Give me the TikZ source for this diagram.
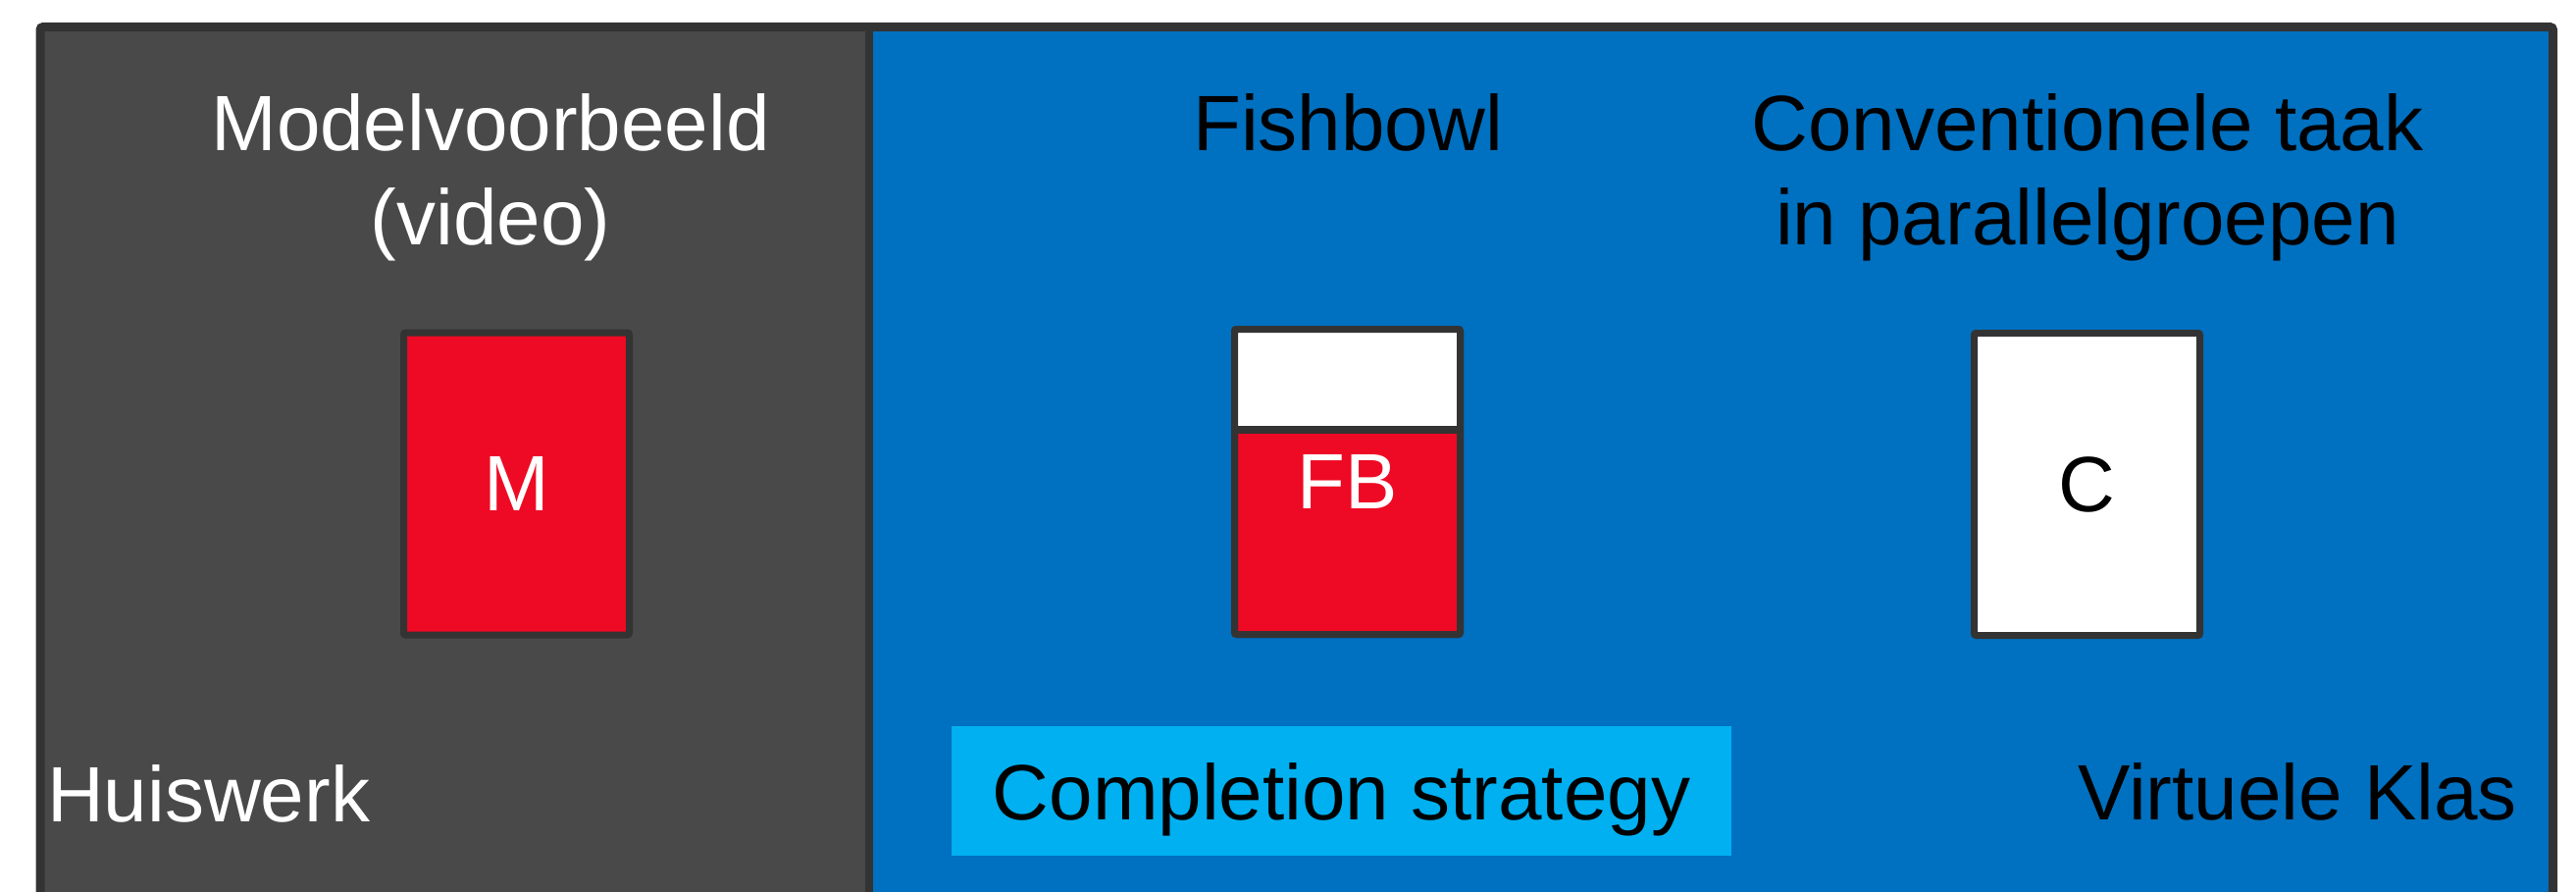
\documentclass[tikz,border=0pt]{standalone}
\usepackage{fontspec}
\setmainfont{Liberation Sans}
\usetikzlibrary{calc}
\definecolor{panelgray}{HTML}{494949}
\definecolor{edge}{HTML}{333333}
\definecolor{vblue}{HTML}{0070C0}
\definecolor{cblue}{HTML}{00B0F0}
\definecolor{mred}{HTML}{EE0A24}
\begin{document}
\begin{tikzpicture}[x=1pt,y=-1pt,
  lbl/.style={font=\fontsize{80}{96}\selectfont, inner sep=0pt},
  card/.style={draw=edge, line width=7pt, rounded corners=2pt, outer sep=0pt,
    minimum width=230pt, minimum height=308pt, inner sep=0pt,
    font=\fontsize{80}{96}\selectfont}]
\useasboundingbox (0,0) rectangle (2626,909);
\clip (0,0) rectangle (2626,909);
% panels
\fill[panelgray] (41,27) rectangle (886,960);
\fill[vblue] (886,27) rectangle (2602,960);
\draw[edge, line width=8pt] (886,27) -- (886,960);
\draw[edge, line width=9pt, rounded corners=3pt] (41,960) -- (41,27.5) -- (2602.5,27.5) -- (2602.5,960);
% cards
\node[card, fill=mred, text=white] (m) at (526.5,493) {M};
\node[card, fill=mred, text=white, minimum height=311pt] (fb) at (1373.5,491) {FB};
\fill[white] ($(fb.north west)+(3.5,3.5)$) rectangle ($(fb.north east)+(-3.5,98.5)$);
\draw[edge, line width=8pt] ($(fb.north west)+(0,102)$) -- ($(fb.north east)+(0,102)$);
\draw[edge, line width=7pt, rounded corners=2pt] (fb.north west) rectangle (fb.south east);
\node[card, fill=white, text=black] (c) at (2127.5,493.5) {C};
% titles
\node[lbl, text=white, align=center, anchor=base] (tm) at (500,250) {Modelvoorbeeld\\(video)};
\node[lbl, anchor=base] (tf) at (1374,154) {Fishbowl};
\node[lbl, align=center, anchor=base] (tc) at (2128,250) {Conventionele taak\\in parallelgroepen};
% bottom labels
\node[lbl, text=white, anchor=base west] (hw) at (48,837) {Huiswerk};
\node[lbl, fill=cblue, minimum width=795pt, minimum height=132pt, text height=75pt, text depth=17pt] (cs) at (1367.5,806) {Completion strategy};
\node[lbl, anchor=base east] (vk) at (2566,835) {Virtuele Klas};
\end{tikzpicture}
\end{document}
